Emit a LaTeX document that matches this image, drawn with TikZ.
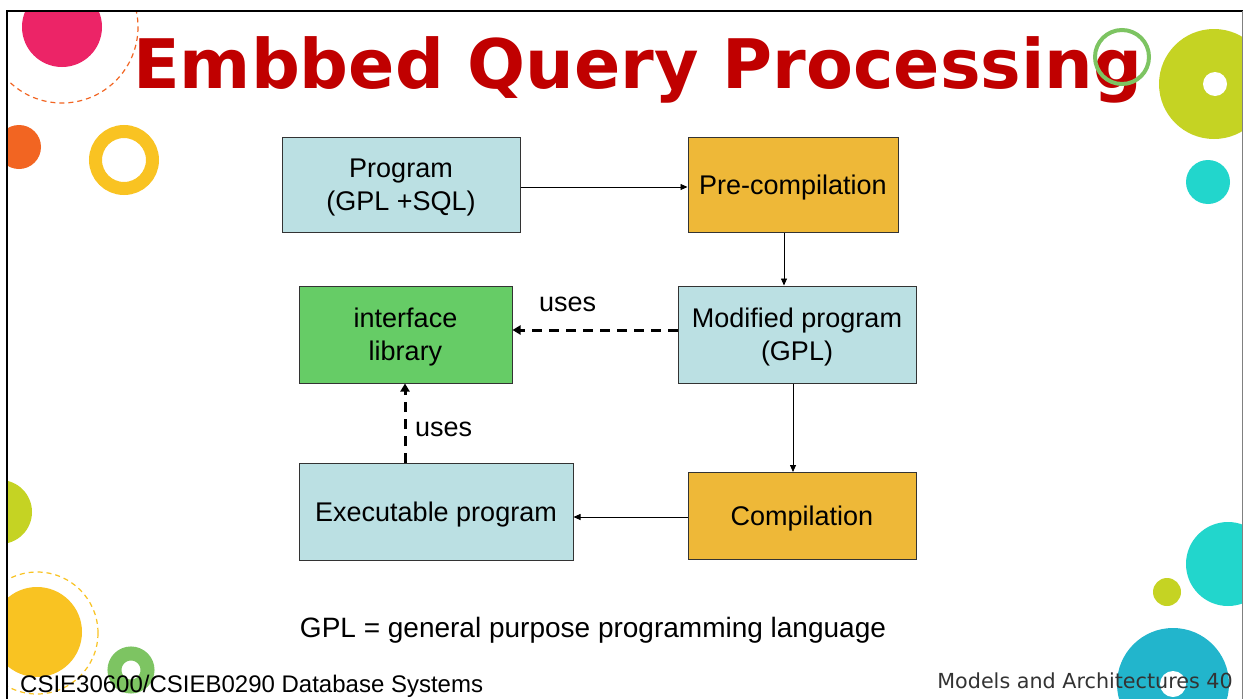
\documentclass[tikz,border=0pt]{standalone}
\usepackage{fontspec}
\setmainfont{Liberation Sans}
\newfontfamily\djv{DejaVu Sans}
\usetikzlibrary{arrows.meta}
\definecolor{lblue}{HTML}{BBE0E3}
\definecolor{lorange}{HTML}{EEB838}
\definecolor{lgreen}{HTML}{66CC66}
\definecolor{titlered}{HTML}{C00000}
\definecolor{cpink}{HTML}{EC2467}
\definecolor{corange}{HTML}{F26522}
\definecolor{cyellow}{HTML}{F9C322}
\definecolor{cyg}{HTML}{C5D323}
\definecolor{ccyan}{HTML}{22D6CC}
\definecolor{cteal}{HTML}{22B5CC}
\definecolor{cgreen}{HTML}{7DC462}
\definecolor{boxline}{HTML}{333333}
\tikzset{
  boxnode/.style={draw=boxline, line width=1pt, align=center, inner sep=0pt,
    text depth=0pt, font=\fontsize{27}{33}\selectfont, text=black},
  flow/.style={line width=0.8pt, -{Triangle[length=7pt,width=6pt]}},
  usesarrow/.style={line width=3pt, dash pattern=on 10pt off 7pt, -{Triangle[length=8pt,width=9pt]}},
  lbl/.style={inner sep=0pt, font=\fontsize{27}{30}\selectfont},
}
\begin{document}
\begin{tikzpicture}[x=1pt,y=-1pt]
\useasboundingbox (0,0) rectangle (1243,699);
\fill[white] (0,0) rectangle (1243,699);
% decorations, clipped to frame
\begin{scope}
\clip (7,11) rectangle (1242,699);
\fill[cpink] (62,27) circle (40);
\draw[corange, line width=1.2pt, dash pattern=on 5pt off 4pt] (62,27) circle (76);
\fill[corange] (19,147) circle (22);
\draw[cyellow, line width=13pt] (124,160) circle (28.5);
\fill[cyg] (1214,84) circle (55);
\fill[white] (1215,84) circle (12);
\fill[ccyan] (1208,182) circle (22);
\fill[cyg] (0,512) circle (32);
\fill[cyellow] (37,632) circle (45);
\draw[cyellow, line width=1.2pt, dash pattern=on 5pt off 4pt] (37,633) circle (61);
\draw[cgreen, line width=14pt] (131,670) circle (16.5);
\fill[ccyan] (1228,564) circle (42);
\fill[cyg] (1167,592) circle (14);
\fill[cteal] (1173,684) circle (56);
\fill[white] (1173,684) circle (13);
\end{scope}
% frame
\draw[black, line width=2pt] (7,699) -- (7,11) -- (1243,11);
\draw[gray, line width=1pt] (1242,11) -- (1242,699);
% title
\node[anchor=base west, inner sep=0pt, text=titlered, font=\djv\bfseries\fontsize{68.3}{69}\selectfont] (title) at (133,88) {Embbed Query Processing};
\draw[cgreen, line width=4pt] (1122,57) circle (27);
% boxes
\node[boxnode, fill=lblue, minimum width=238pt, minimum height=95pt] (prog) at (401,184.5) {Program\\(GPL +SQL)};
\node[boxnode, fill=lorange, minimum width=210pt, minimum height=95pt] (pre) at (793,184.5) {Pre-compilation};
\node[boxnode, fill=lgreen, minimum width=213pt, minimum height=97pt] (lib) at (405.5,334.5) {interface\\library};
\node[boxnode, fill=lblue, minimum width=238pt, minimum height=97pt] (mod) at (797,334.5) {Modified program\\(GPL)};
\node[boxnode, fill=lblue, minimum width=274pt, minimum height=97pt] (exe) at (436,512) {Executable program};
\node[boxnode, fill=lorange, minimum width=228pt, minimum height=87pt] (comp) at (802,516) {Compilation};
% connectors
\draw[flow] (prog.east |- 0,187) -- (pre.west |- 0,187);
\draw[flow] (pre.south -| 784,0) -- (mod.north -| 784,0);
\draw[flow] (mod.south -| 793,0) -- (comp.north -| 793,0);
\draw[flow] (comp.west |- 0,517) -- (exe.east |- 0,517);
\draw[usesarrow] (mod.west |- 0,330) -- (lib.east |- 0,330);
\draw[usesarrow] (exe.north -| 405,0) -- (lib.south -| 405,0);
\node[lbl, anchor=base west] (u1) at (539,311) {uses};
\node[lbl, anchor=base west] (u2) at (415,436) {uses};
% footnotes
\node[anchor=base, inner sep=0pt, font=\fontsize{28}{30}\selectfont] (gpl) at (593,637) {GPL = general purpose programming language};
\node[anchor=base west, inner sep=0pt, font=\fontsize{24}{26}\selectfont] (foot) at (20,692) {CSIE30600/CSIEB0290 Database Systems};
\node[anchor=base east, inner sep=0pt, text=black!80, font=\djv\fontsize{20.7}{24}\selectfont] (pg) at (1233,688) {Models and Architectures 40};
\end{tikzpicture}
\end{document}
